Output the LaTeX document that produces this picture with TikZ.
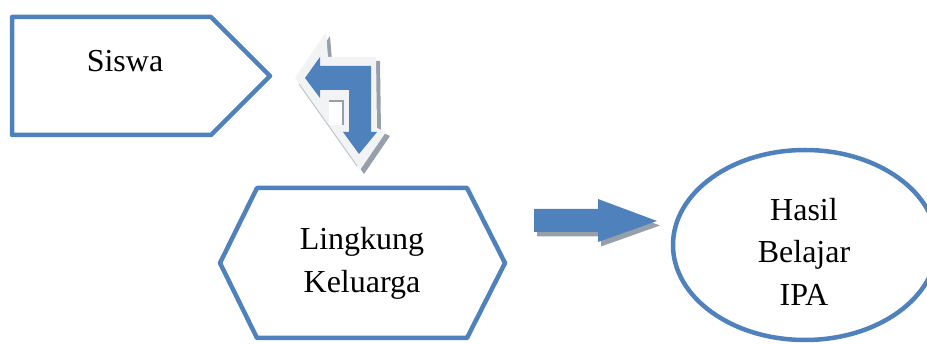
\documentclass[tikz,border=0pt]{standalone}
\usepackage{fontspec}
\setmainfont{Liberation Serif}
\usepackage{tikz}
\definecolor{officeblue}{RGB}{79,129,189}
\definecolor{shadowgrey}{RGB}{150,159,170}
\definecolor{bevelgrey}{RGB}{242,243,244}
\tikzset{
  boxline/.style={draw=officeblue, line width=4.5pt, line join=round},
  txt/.style={font=\fontsize{32}{42.5}\selectfont, align=center, inner sep=0pt},
}

\begin{document}
\begin{tikzpicture}[x=1pt,y=-1pt]
  \useasboundingbox (0,0) rectangle (927,344);
  \def\sdx{3}
  \def\sdy{4.5}

  % Siswa
  \draw[boxline] (12,17) -- (211,17) -- (270,76) -- (211,135) -- (12,135) -- cycle;
  \node[txt, anchor=base] (siswa) at (125,72) {Siswa};

  % Lingkung Keluarga
  \draw[boxline] (220,263) -- (257,188) -- (467,188) -- (505,263)
    -- (467,338) -- (257,338) -- cycle;
  \node[txt] (keluarga) at (362,263.5) {Lingkung\\Keluarga};

  % Hasil Belajar IPA
  \draw[boxline] (805,245) ellipse [x radius=132, y radius=95];
  \node[txt] (hasil) at (804,251.5) {Hasil\\Belajar\\IPA};

  % bent arrow, left and down
  \fill[shadowgrey, shift={(4,4)}] (295,78) -- (326,32) -- (328,57) -- (376,57)
    -- (377,128) -- (386,132) -- (360,170) -- cycle;
  \fill[bevelgrey] (295,78) -- (326,32) -- (328,57) -- (376,57)
    -- (377,128) -- (386,132) -- (360,170) -- cycle;
  \draw[shadowgrey!60, line width=1pt] (299,84) -- (357,166);
  \fill[white] (329,100) rectangle (344,125);
  \draw[shadowgrey, line width=2.5pt] (329,101) -- (343,101) -- (343,125);
  \fill[officeblue] (305,78) -- (320,57) -- (320,66) -- (371,66) -- (371,132)
    -- (377,132) -- (359,154) -- (343,132) -- (349,132) -- (349,90)
    -- (320,90) -- (320,98) -- cycle;

  % arrow to Hasil Belajar
  \fill[shadowgrey, shift={(\sdx,\sdy)}] (534,209) -- (598,209) -- (598,199)
    -- (657,221) -- (598,242) -- (598,232) -- (534,232) -- cycle;
  \fill[officeblue] (534,209) -- (598,209) -- (598,199)
    -- (657,221) -- (598,242) -- (598,232) -- (534,232) -- cycle;
\end{tikzpicture}
\end{document}
